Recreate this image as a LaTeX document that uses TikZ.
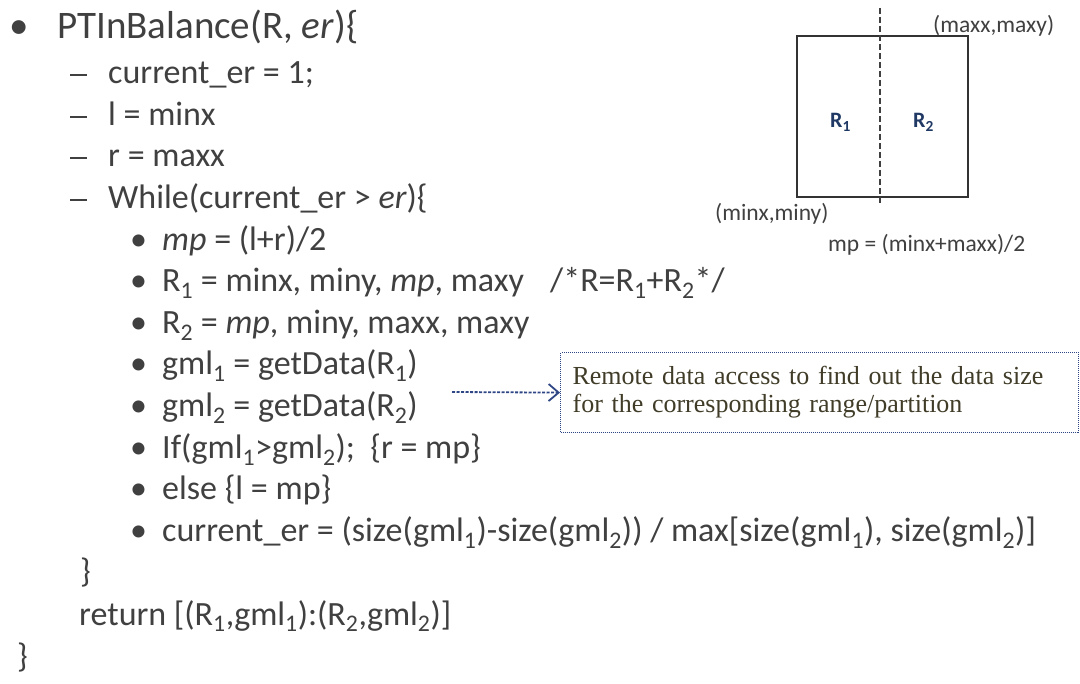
\documentclass[tikz,border=0pt]{standalone}
\usepackage{fontspec}
\setmainfont{Carlito}
\newfontfamily\notefont{Liberation Serif}
\usetikzlibrary{arrows.meta}
\definecolor{txtgray}{HTML}{404040}
\definecolor{regblue}{HTML}{1F3864}
\definecolor{notenavy}{HTML}{2E4684}
\definecolor{noteink}{HTML}{403C28}
\newcommand{\dashmark}{\makebox[38pt][l]{\rule[7.5pt]{17pt}{2.2pt}}}

\begin{document}
\begin{tikzpicture}[x=1pt, y=-1pt, >={Straight Barb[length=10pt,width=17pt,line width=1.8pt]},
  lvlone/.style={anchor=base west, inner sep=0pt, text=txtgray, font=\fontsize{39}{41}\selectfont},
  lvltwo/.style={anchor=base west, inner sep=0pt, text=txtgray, font=\fontsize{34}{37}\selectfont},
  small/.style={anchor=base west, inner sep=0pt, text=txtgray, font=\fontsize{23.5}{26}\selectfont},
  region/.style={anchor=base west, inner sep=0pt, text=regblue, font=\fontsize{22}{24}\selectfont\bfseries}]
  \useasboundingbox (0,0) rectangle (1080,684);
  % partition de l'espace (coin en haut a droite)
  \def\xmin{797} \def\xmax{968} \def\ymin{197} \def\ymax{36} \def\xmp{880}
  \draw[line width=1.6pt, draw=black!80] (\xmin,\ymax) rectangle (\xmax,\ymin);
  \coordinate (mptop) at (\xmp,8);
  \coordinate (mpbot) at (\xmp,205);
  \draw[line width=1.8pt, draw=black!75, dash pattern=on 6pt off 3pt] (mptop) -- (mpbot);
  \node[region] (rone) at (830,128) {R\textsubscript{1}};
  \node[region] (rtwo) at (913,128) {R\textsubscript{2}};
  \node[small] (maxcorner) at (933,33) {(maxx,maxy)};
  \node[small] (mincorner) at (715,221) {(minx,miny)};
  \node[small] (mpdef) at (828,252) {mp = (minx+maxx)/2};
  % pseudo-code
  \node[lvlone] (head) at (9,39) {\makebox[48pt][l]{•}PTInBalance(R, \textit{er})\{};
  \node[lvltwo] (init) at (70,84) {\dashmark current\_er = 1;};
  \node[lvltwo] (setl) at (70,126) {\dashmark l = minx};
  \node[lvltwo] (setr) at (70,167) {\dashmark r = maxx};
  \node[lvltwo] (loop) at (70,209) {\dashmark While(current\_er > \textit{er})\{};
  \node[lvltwo] (midpt) at (130,251) {\makebox[32pt][l]{•}\textit{mp} = (l+r)/2};
  \node[lvltwo] (rangeone) at (130,292) {\makebox[32pt][l]{•}R\textsubscript{1} = minx, miny, \textit{mp}, maxy};
  \node[lvltwo] (rsum) at (550,292) {/*R=R\textsubscript{1}+R\textsubscript{2}*/};
  \node[lvltwo] (rangetwo) at (130,334) {\makebox[32pt][l]{•}R\textsubscript{2} = \textit{mp}, miny, maxx, maxy};
  \node[lvltwo] (getone) at (130,375) {\makebox[32pt][l]{•}gml\textsubscript{1} = getData(R\textsubscript{1})};
  \node[lvltwo] (gettwo) at (130,417) {\makebox[32pt][l]{•}gml\textsubscript{2} = getData(R\textsubscript{2})};
  \node[lvltwo] (test) at (130,459) {\makebox[32pt][l]{•}If(gml\textsubscript{1}>gml\textsubscript{2}); \ \{r = mp\}};
  \node[lvltwo] (other) at (130,500) {\makebox[32pt][l]{•}else \{l = mp\}};
  \node[lvltwo] (update) at (130,542) {\makebox[32pt][l]{•}current\_er = (size(gml\textsubscript{1})-size(gml\textsubscript{2})) / max[size(gml\textsubscript{1}), size(gml\textsubscript{2})]};
  \node[lvltwo] (loopend) at (80,583) {\}};
  \node[lvltwo] (result) at (79,625) {return [(R\textsubscript{1},gml\textsubscript{1}):(R\textsubscript{2},gml\textsubscript{2})]};
  \node[lvltwo] (funcend) at (17,667) {\}};
  % note sur l'acces distant
  \node[draw=notenavy, dash pattern=on 1pt off 1pt, line width=1.2pt, anchor=north west, minimum width=518pt, minimum height=80pt,
        text width=494pt, inner xsep=12pt, align=left, text=noteink,
        font=\notefont\fontsize{26}{28}\selectfont] (remote) at (560,352)
        {Remote data access to find out the data size\\for the corresponding range/partition};
  \coordinate (probe) at (452,392);
  \draw[->, draw=notenavy, dash pattern=on 3pt off 1.5pt, line width=1.8pt] (probe) -- (remote.west);
\end{tikzpicture}
\end{document}
